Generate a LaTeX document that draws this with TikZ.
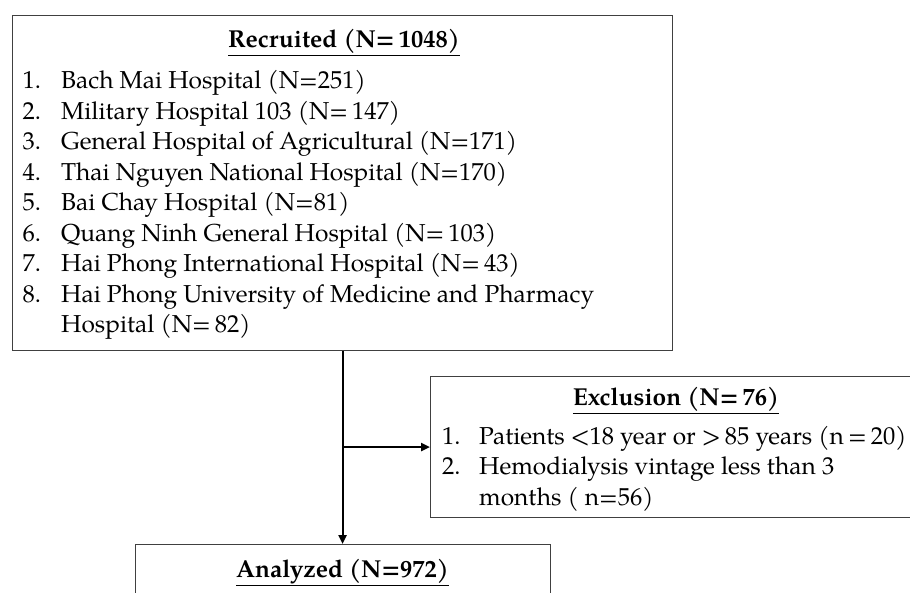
\documentclass[tikz,border=0pt]{standalone}
\usepackage{fontspec}
\setmainfont{texgyrepagella}[Extension=.otf, UprightFont=*-regular, BoldFont=*-bold, ItalicFont=*-italic, BoldItalicFont=*-bolditalic]
\usetikzlibrary{arrows.meta}
\tikzset{
  boxnode/.style={draw=black!75, line width=1.2pt, inner sep=0pt, anchor=north west},
  txt/.style={inner sep=0pt, font=\fontsize{24.5}{30.5}\selectfont},
  arr/.style={line width=2.2pt, -{Triangle[length=9pt,width=8pt]}},
}
\newcommand{\ttl}[1]{\underline{\textbf{#1}}}
\newcommand{\nsp}{\hspace{0.17em}}
\begin{document}
\begin{tikzpicture}[x=1pt,y=-1pt]
\useasboundingbox (0,0) rectangle (910,593);
\clip (0,0) rectangle (910,593);
\fill[white] (0,0) rectangle (910,593);
% boxes
\node[boxnode, minimum width=660pt, minimum height=335pt] (rec) at (12,15) {};
\node[boxnode, minimum width=492pt, minimum height=141pt] (exc) at (430,376) {};
\node[boxnode, minimum width=415pt, minimum height=90pt] (ana) at (135,544) {};
% texts
\node[txt, anchor=base] (rect) at (344,48) {\ttl{Recruited (N=\nsp1048)}};
\node[txt, anchor=base west] (recl) at (22.5,89) {\begin{tabular}[t]{@{}p{38.5pt}@{}l@{}}
1. & Bach Mai Hospital (N=251)\\
2. & Military Hospital 103 (N=\nsp147)\\
3. & General Hospital of Agricultural (N=171)\\
4. & Thai Nguyen National Hospital (N=170)\\
5. & Bai Chay Hospital (N=81)\\
6. & Quang Ninh General Hospital (N=\nsp103)\\
7. & Hai Phong International Hospital (N=\nsp43)\\
8. & Hai Phong University of Medicine and Pharmacy\\
 & Hospital (N=\nsp82)
\end{tabular}};
\node[txt, anchor=base] (exct) at (676,406) {\ttl{Exclusion (N=\nsp76)}};
\node[txt, anchor=base west] (excl) at (442,444) {\begin{tabular}[t]{@{}p{37pt}@{}l@{}}
1. & Patients <18 year or >\nsp85 years (n\nsp=\nsp20)\\
2. & Hemodialysis vintage less than 3\\
 & months ( n=56)
\end{tabular}};
\node[txt, anchor=base] (anat) at (342.5,577) {\ttl{Analyzed (N=972)}};
% connectors
\draw[arr] (rec.south) -- (rec.south |- ana.north);
\coordinate (j) at (rec.south |- exc.west);
\draw[arr] (j) -- (exc.west);
\end{tikzpicture}
\end{document}
